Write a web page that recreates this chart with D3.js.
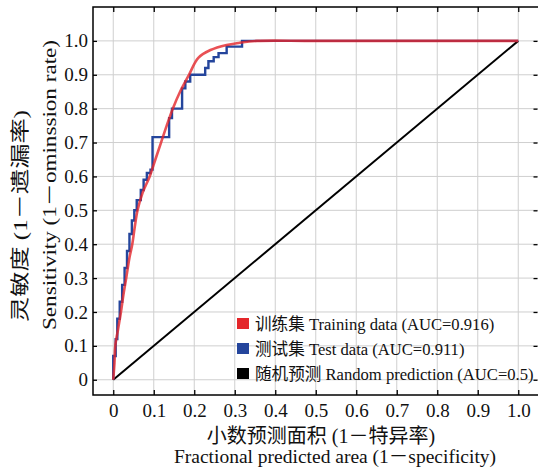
<!DOCTYPE html>
<html>
<head>
<meta charset="utf-8">
<script src="https://cdn.jsdelivr.net/npm/d3@7"></script>
<style>
  body { margin: 0; background: #fff; }
  text { font-family: "Liberation Serif", "Noto Sans CJK SC", serif; fill: #111; }
</style>
</head>
<body>
<div id="chart"></div>
<script>
// ROC curves (false positive rate, true positive rate)
const trainRoc = [
  [0, 0], [0.003, 0.05], [0.005, 0.1], [0.012, 0.15], [0.019, 0.2], [0.025, 0.25],
  [0.032, 0.3], [0.04, 0.36], [0.047, 0.4], [0.053, 0.45], [0.06, 0.5], [0.072, 0.55],
  [0.09, 0.6], [0.104, 0.65], [0.118, 0.7], [0.132, 0.75], [0.147, 0.8], [0.165, 0.85],
  [0.187, 0.9], [0.21, 0.95], [0.24, 0.973], [0.28, 0.988], [0.31, 0.994], [0.355, 1.0],
  [0.5, 1], [1, 1]
];
const testRoc = [
  [0, 0], [0, 0.07], [0.006, 0.07], [0.006, 0.12], [0.01, 0.12], [0.01, 0.18],
  [0.016, 0.18], [0.016, 0.23], [0.022, 0.23], [0.022, 0.28], [0.028, 0.28], [0.028, 0.33],
  [0.034, 0.33], [0.034, 0.38], [0.04, 0.38], [0.04, 0.43], [0.046, 0.43], [0.046, 0.47],
  [0.052, 0.47], [0.052, 0.5], [0.058, 0.5], [0.058, 0.53], [0.068, 0.53], [0.068, 0.56],
  [0.075, 0.56], [0.075, 0.59], [0.083, 0.59], [0.083, 0.61], [0.092, 0.61], [0.092, 0.62],
  [0.097, 0.62], [0.097, 0.716], [0.138, 0.716], [0.138, 0.772], [0.145, 0.772], [0.145, 0.8],
  [0.17, 0.8], [0.17, 0.86], [0.178, 0.86], [0.178, 0.88], [0.19, 0.88], [0.19, 0.9],
  [0.227, 0.9], [0.227, 0.92], [0.235, 0.92], [0.235, 0.94], [0.248, 0.94], [0.248, 0.952],
  [0.26, 0.952], [0.26, 0.964], [0.28, 0.964], [0.28, 0.983], [0.318, 0.983], [0.318, 1.0],
  [1, 1]
];
const randomRoc = [[0, 0], [1, 1]];

const tickValues = [0, 0.1, 0.2, 0.3, 0.4, 0.5, 0.6, 0.7, 0.8, 0.9, 1.0];
const tickLabels = ["0", "0.1", "0.2", "0.3", "0.4", "0.5", "0.6", "0.7", "0.8", "0.9", "1.0"];

const legendNames = [
  "训练集 Training data (AUC=0.916)",
  "测试集 Test data (AUC=0.911)",
  "随机预测 Random prediction (AUC=0.5)"
];
const legendColors = ["#e4262a", "#24459c", "#000000"];

const xTitle = ["小数预测面积 (1－特异率)", "Fractional predicted area (1－specificity)"];
const yTitle = ["灵敏度 (1－遗漏率)", "Sensitivity (1－ominssion rate)"];

const width = 538, height = 469;
const svg = d3.select("#chart").append("svg")
  .attr("width", width)
  .attr("height", height);

// escalas
const x = d3.scaleLinear().domain([-0.05, 1.05]).range([93, 538.5]);
const y = d3.scaleLinear().domain([-0.045, 1.1]).range([395, 7]);

// cuadricula
svg.append("g").selectAll("line").data(tickValues).enter().append("line")
  .attr("x1", d => x(d)).attr("x2", d => x(d))
  .attr("y1", y.range()[1]).attr("y2", y.range()[0])
  .attr("stroke", "#cfcfcf").attr("stroke-width", 1);
svg.append("g").selectAll("line").data(tickValues).enter().append("line")
  .attr("y1", d => y(d)).attr("y2", d => y(d))
  .attr("x1", x.range()[0]).attr("x2", x.range()[1])
  .attr("stroke", "#cfcfcf").attr("stroke-width", 1);

// ejes
const fmt = (d, i) => tickLabels[i];
const xAxisBottom = d3.axisBottom(x).tickValues(tickValues).tickFormat(fmt).tickSizeInner(-5).tickSizeOuter(0).tickPadding(9);
const xAxisTop = d3.axisTop(x).tickValues(tickValues).tickFormat("").tickSizeInner(-5).tickSizeOuter(0);
const yAxisLeft = d3.axisLeft(y).tickValues(tickValues).tickFormat(fmt).tickSizeInner(-4).tickSizeOuter(0).tickPadding(5);
const yAxisRight = d3.axisRight(y).tickValues(tickValues).tickFormat("").tickSizeInner(-4).tickSizeOuter(0);

function styleAxis(g) {
  g.select(".domain").remove();
  g.selectAll(".tick line").attr("stroke", "#000").attr("stroke-width", 1.3);
  g.selectAll(".tick text").attr("font-size", 19).attr("font-family", "Liberation Serif").attr("fill", "#111");
}
svg.append("g").attr("transform", `translate(0,${y.range()[0]})`).call(xAxisBottom).call(styleAxis);
svg.append("g").attr("transform", `translate(0,${y.range()[1]})`).call(xAxisTop).call(styleAxis);
svg.append("g").attr("transform", `translate(${x.range()[0]},0)`).call(yAxisLeft).call(styleAxis);
svg.append("g").attr("transform", `translate(${x.range()[1] - 1},0)`).call(yAxisRight).call(styleAxis);

// marco (el borde derecho queda fuera de la imagen)
svg.append("rect")
  .attr("x", x.range()[0]).attr("y", y.range()[1])
  .attr("width", x.range()[1] - x.range()[0] + 2).attr("height", y.range()[0] - y.range()[1])
  .attr("fill", "none").attr("stroke", "#000").attr("stroke-width", 1.5);

// curvas
const line = d3.line().x(d => x(d[0])).y(d => y(d[1]));
svg.append("path").datum(randomRoc).attr("d", line)
  .attr("fill", "none").attr("stroke", "#000").attr("stroke-width", 2);
svg.append("path").datum(testRoc).attr("d", line)
  .attr("fill", "none").attr("stroke", legendColors[1]).attr("stroke-width", 2.4)
  .attr("stroke-linejoin", "miter");
svg.append("path").datum(trainRoc)
  .attr("d", d3.line().x(d => x(d[0])).y(d => y(d[1])).curve(d3.curveCatmullRom.alpha(0.5)))
  .attr("fill", "none").attr("stroke", legendColors[0]).attr("stroke-width", 2.6)
  .attr("stroke-opacity", 0.8);

// leyenda
const legend = svg.append("g");
legendNames.forEach((name, i) => {
  const cy = 324 + i * 25;
  legend.append("rect")
    .attr("x", 237).attr("y", cy - 6).attr("width", 12).attr("height", 11)
    .attr("fill", legendColors[i]);
  legend.append("text")
    .attr("x", 255).attr("y", cy).attr("dy", "0.35em")
    .attr("font-size", 16.6).text(name);
});

// titulos
svg.append("text").attr("x", 321).attr("y", 436).attr("dy", "0.35em")
  .attr("text-anchor", "middle").attr("font-size", 20).text(xTitle[0]);
svg.append("text").attr("x", 335).attr("y", 456).attr("dy", "0.35em")
  .attr("text-anchor", "middle").attr("font-size", 19.5).text(xTitle[1]);

svg.append("text").attr("transform", "translate(20,216) rotate(-90)").attr("dy", "0.35em")
  .attr("text-anchor", "middle").attr("font-size", 19)
  .attr("textLength", 212).attr("lengthAdjust", "spacingAndGlyphs").text(yTitle[0]);
svg.append("text").attr("transform", "translate(50,185) rotate(-90)").attr("dy", "0.35em")
  .attr("text-anchor", "middle").attr("font-size", 18)
  .attr("textLength", 290).attr("lengthAdjust", "spacingAndGlyphs").text(yTitle[1]);
</script>
</body>
</html>
